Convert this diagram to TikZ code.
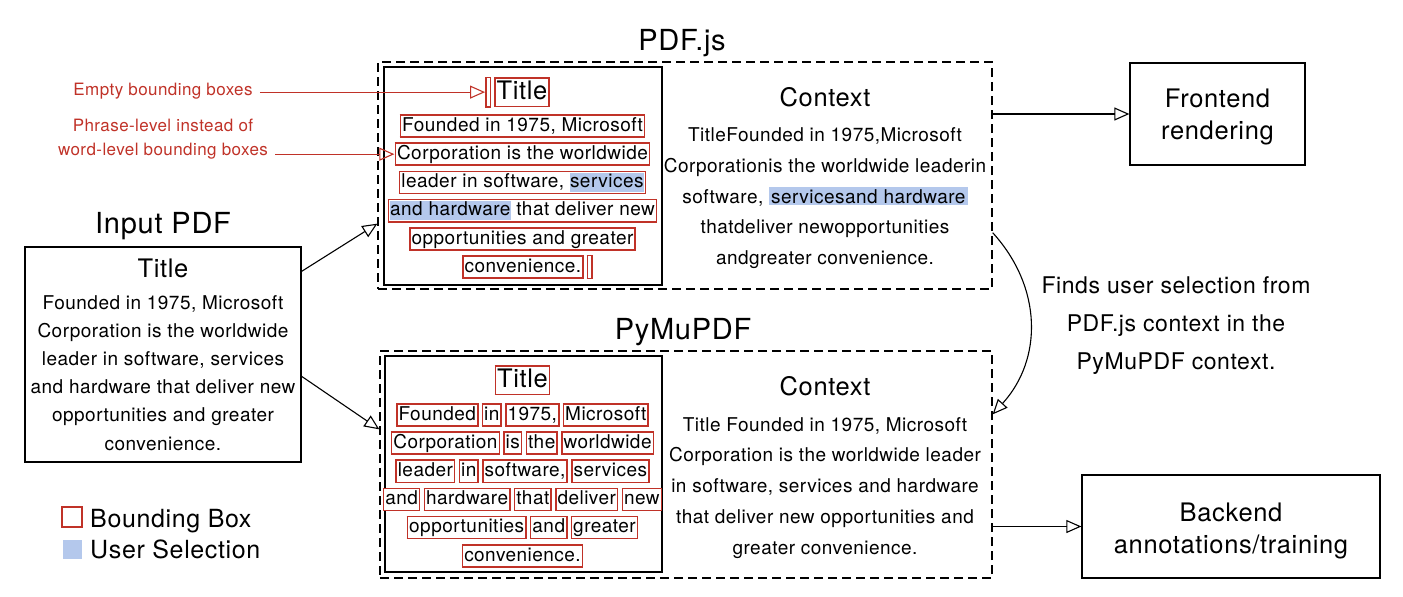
\documentclass[tikz,border=0pt]{standalone}
\usepackage{fontspec}
\setmainfont{TeX Gyre Heros}[LetterSpace=2.5]
\usetikzlibrary{arrows.meta,positioning,calc}
\definecolor{bbred}{RGB}{192,50,40}
\definecolor{selblue}{RGB}{180,200,236}
\newcommand{\bbstrut}{\vrule height 0.76em depth 0.22em width 0pt}
\newcommand{\bb}[1]{{\setlength{\fboxsep}{1pt}\setlength{\fboxrule}{1.5pt}\fcolorbox{bbred}{white}{\bbstrut#1}}}
\newcommand{\bbnil}{{\setlength{\fboxsep}{1.4pt}\setlength{\fboxrule}{1.5pt}\fcolorbox{bbred}{white}{\bbstrut}}}
\newcommand{\sel}[1]{{\setlength{\fboxsep}{0pt}\colorbox{selblue}{\bbstrut#1}}}
\newcommand{\selctx}[1]{{\setlength{\fboxsep}{2pt}\colorbox{selblue}{#1}}}
\begin{document}
\begin{tikzpicture}[x=1pt,y=-1pt,
  plainbox/.style={draw,line width=1.3pt,inner sep=0pt},
  dashbox/.style={draw,line width=1.3pt,dash pattern=on 9pt off 5pt,inner sep=0pt},
  flow/.style={-{Triangle[open,length=15pt,width=13pt]},line width=1.1pt},
  redflow/.style={flow,draw=bbred},
  bodytxt/.style={font=\fontsize{19}{28.3}\selectfont,inner sep=0pt},
  headtxt/.style={font=\fontsize{29}{34}\selectfont,inner sep=0pt},
  subtxt/.style={font=\fontsize{25.5}{32}\selectfont,inner sep=0pt},
  notetxt/.style={font=\fontsize{17}{24}\selectfont,text=bbred,inner sep=0pt,align=center},
  legtxt/.style={font=\fontsize{25}{28}\selectfont,anchor=base west,inner sep=0pt},
  bbline/.style={bodytxt,anchor=base}]

\useasboundingbox (0,0) rectangle (1403,597);

\node[headtxt,anchor=base] (hinput) at (163,233) {Input PDF};
\node[plainbox,minimum width=276pt,minimum height=215pt] (inpdf) at (163,354.5) {};
\node[subtxt,anchor=base] (intitle) at (163,277.5) {Title};
\foreach \txt [count=\i] in {{Founded in 1975, Microsoft},{Corporation is the worldwide},{leader in software, services},{and hardware that deliver new},{opportunities and greater},{convenience.}}
  \node[bbline] (inl\i) at (163,{309+28.2*(\i-1)}) {\txt};

\node[headtxt,anchor=base] (hpdfjs) at (682,50) {PDF.js};
\node[dashbox,minimum width=614pt,minimum height=227pt] (pdfjs) at (685,175.5) {};
\node[plainbox,minimum width=278pt,minimum height=218pt] (pdfjsin) at (523,176) {};
\node[subtxt,anchor=base east] (t0) at (550,99) {\bbnil\hspace{3pt}\bb{Title}};
\foreach \txt [count=\i] in {{Founded in 1975, Microsoft},{Corporation is the worldwide},{leader in software, \sel{services}},{\sel{and hardware} that deliver new},{opportunities and greater}}
  \node[bbline] (pl\i) at (522.5,{131+28.3*(\i-1)}) {\bb{\txt}};
\node[bodytxt,anchor=base west] (pl6) at (462,272.3) {\bb{convenience.}\hspace{3pt}\bbnil};
\node[subtxt,anchor=base] (ctx1h) at (825,106.7) {Context};
\foreach \txt [count=\i] in {{TitleFounded in 1975,Microsoft},{Corporationis the worldwide leaderin},{software, \selctx{servicesand hardware}},{thatdeliver newopportunities},{andgreater convenience.}}
  \node[bbline] (ctx1l\i) at (825,{141.7+30.65*(\i-1)}) {\txt};

\node[headtxt,anchor=base] (hpymu) at (683,339) {PyMuPDF};
\node[dashbox,minimum width=612pt,minimum height=227pt] (pymu) at (686,464.5) {};
\node[plainbox,minimum width=277pt,minimum height=216pt] (pymuin) at (523.5,464) {};
\node[subtxt,anchor=base] (w0) at (522.5,387.3) {\bb{Title}};
\foreach \txt [count=\i] in {{\bb{Founded}\,\bb{in}\,\bb{1975,}\,\bb{Microsoft}},{\bb{Corporation}\,\bb{is}\,\bb{the}\,\bb{worldwide}},{\bb{leader}\,\bb{in}\,\bb{software,}\,\bb{services}},{\bb{and}\,\bb{hardware}\,\bb{that}\,\bb{deliver}\,\bb{new}},{\bb{opportunities}\,\bb{and}\,\bb{greater}},{\bb{convenience.}}}
  \node[bbline] (wl\i) at (522.5,{420+28.2*(\i-1)}) {\txt};
\node[subtxt,anchor=base] (ctx2h) at (825,395.5) {Context};
\foreach \txt [count=\i] in {{Title Founded in 1975, Microsoft},{Corporation is the worldwide leader},{in software, services and hardware},{that deliver new opportunities and},{greater convenience.}}
  \node[bbline] (ctx2l\i) at (825,{431+30.75*(\i-1)}) {\txt};

\node[plainbox,minimum width=175pt,minimum height=102pt] (front) at (1217.5,114) {};
\node[subtxt,align=center] (fronttxt) at ([yshift=-3pt]front.center) {Frontend\\rendering};
\node[plainbox,minimum width=298pt,minimum height=103pt] (back) at (1231,526.5) {};
\node[subtxt,align=center] (backtxt) at ([yshift=-4pt]back.center) {Backend\\annotations/training};
\node[font=\fontsize{23}{38}\selectfont,align=center,inner sep=0pt] (findnote) at (1176,326) {Finds user selection from\\PDF.js context in the\\PyMuPDF context.};

\node[notetxt] (lblempty) at (163,91) {Empty bounding boxes};
\node[notetxt] (lblphrase) at (163,139) {Phrase-level instead of\\word-level bounding boxes};

\node[draw=bbred,line width=1.5pt,minimum size=20pt,inner sep=0pt] (legbb) at (72,517) {};
\node[fill=selblue,minimum size=19pt,inner sep=0pt] (legsel) at (72,549.5) {};
\node[legtxt] (legbbtxt) at (90,527.3) {Bounding Box};
\node[legtxt] (legseltxt) at (90,558.3) {User Selection};

\draw[flow] ([yshift=-25pt]inpdf.north east) -- ([yshift=66pt]pdfjs.south west);
\draw[flow] ([yshift=-130pt]inpdf.north east) -- ([yshift=-79pt]pymu.north west);
\draw[flow] (front.west -| pdfjs.east) -- (front.west);
\draw[flow] (back.west -| pymu.east) -- (back.west);
\draw[flow] ([yshift=57pt]pdfjs.south east) .. controls +(50,55) and +(50,-55) .. ([yshift=-64pt]pymu.north east);
\draw[redflow,shorten <=7pt] (t0.west -| lblempty.east) -- (t0.west);
\draw[redflow,shorten <=7pt] (pl2.west -| lblphrase.east) -- (pl2.west);
\end{tikzpicture}
\end{document}
